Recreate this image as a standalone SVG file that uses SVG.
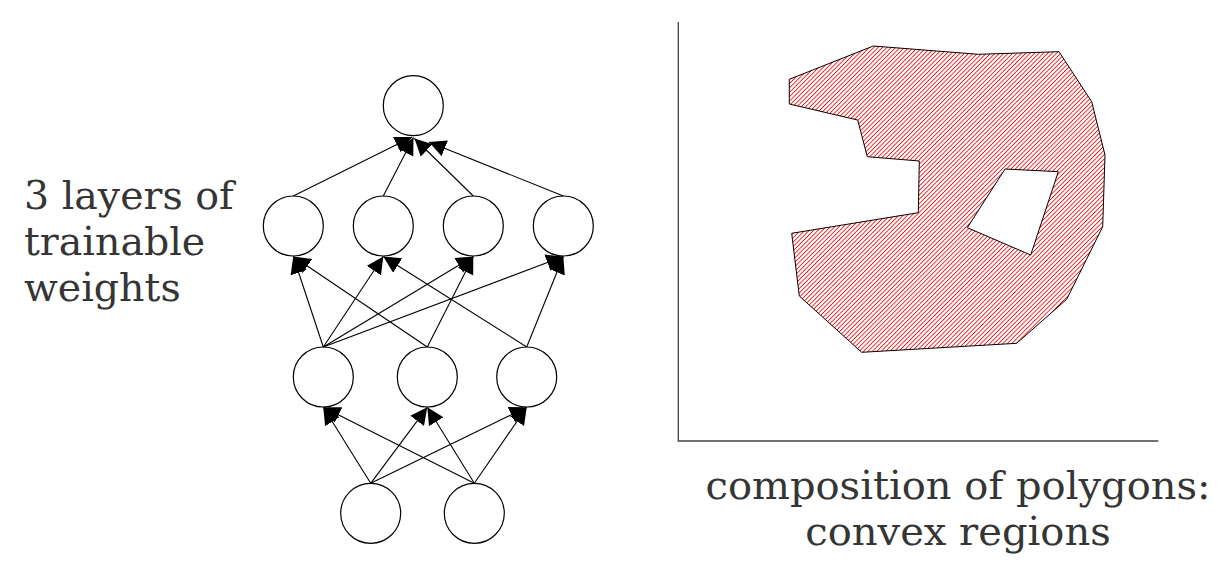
<svg xmlns="http://www.w3.org/2000/svg" width="1222" height="571" viewBox="0 0 1222 571">
<style>
.node{fill:#fff;stroke:#000;stroke-width:1.2}
.edge{stroke:#000;stroke-width:1.1;fill:none;marker-end:url(#ah)}
.lbl{font-family:"DejaVu Serif",serif;fill:#353535}
.axis{stroke:#444;stroke-width:1.3;fill:none}
</style>
<defs>
<marker id="ah" viewBox="0 -9 17 18" refX="17" refY="0" markerWidth="17" markerHeight="18" markerUnits="userSpaceOnUse" orient="auto">
<path d="M0,-8.5 L17,0 L0,8.5 z" fill="#000"/>
</marker>
<pattern id="hatch" patternUnits="userSpaceOnUse" width="3.1" height="10" patternTransform="rotate(45)">
<rect x="0" y="0" width="0.8" height="10" fill="#ff0000"/>
</pattern>
</defs>
<rect width="1222" height="571" fill="#fff"/>
<g id="nodes">
<g id="n_out"><circle class="node" cx="413.3" cy="105.7" r="30"/></g>
<g id="n_h2_1"><circle class="node" cx="293.3" cy="226" r="30"/></g>
<g id="n_h2_2"><circle class="node" cx="383.3" cy="226" r="30"/></g>
<g id="n_h2_3"><circle class="node" cx="473.3" cy="226" r="30"/></g>
<g id="n_h2_4"><circle class="node" cx="563.3" cy="226" r="30"/></g>
<g id="n_h1_1"><circle class="node" cx="323.3" cy="377" r="30"/></g>
<g id="n_h1_2"><circle class="node" cx="427.3" cy="377" r="30"/></g>
<g id="n_h1_3"><circle class="node" cx="526.7" cy="377" r="30"/></g>
<g id="n_in_1"><circle class="node" cx="370.7" cy="513.3" r="30"/></g>
<g id="n_in_2"><circle class="node" cx="474.3" cy="513.3" r="30"/></g>
</g>
<g id="connectors">
<line class="edge" x1="293.3" y1="196" x2="412" y2="137"/>
<line class="edge" x1="383.3" y1="196" x2="413.5" y2="137.5"/>
<line class="edge" x1="473.3" y1="196" x2="414.5" y2="138.5"/>
<line class="edge" x1="563.3" y1="196" x2="429" y2="142"/>
<line class="edge" x1="323.3" y1="347" x2="293.3" y2="256.5"/>
<line class="edge" x1="323.3" y1="347" x2="383.3" y2="256.5"/>
<line class="edge" x1="323.3" y1="347" x2="473.3" y2="256.5"/>
<line class="edge" x1="323.3" y1="347" x2="563.3" y2="256.5"/>
<line class="edge" x1="427.3" y1="347" x2="293.3" y2="256.5"/>
<line class="edge" x1="427.3" y1="347" x2="473.3" y2="256.5"/>
<line class="edge" x1="526.7" y1="347" x2="383.3" y2="256.5"/>
<line class="edge" x1="526.7" y1="347" x2="563.3" y2="256.5"/>
<line class="edge" x1="370.7" y1="483.3" x2="323.3" y2="407.3"/>
<line class="edge" x1="370.7" y1="483.3" x2="427.3" y2="407.3"/>
<line class="edge" x1="370.7" y1="483.3" x2="526.7" y2="407.3"/>
<line class="edge" x1="474.3" y1="483.3" x2="323.3" y2="407.3"/>
<line class="edge" x1="474.3" y1="483.3" x2="427.3" y2="407.3"/>
<line class="edge" x1="474.3" y1="483.3" x2="526.7" y2="407.3"/>
</g>
<g id="label_left">
<text class="lbl" font-size="39.5"><tspan x="24" y="209">3 layers of</tspan><tspan x="24" y="255">trainable</tspan><tspan x="24" y="301">weights</tspan></text>
</g>
<g id="plot">
<polyline class="axis" points="678.3,22 678.3,441 1158.3,441"/>
<path id="region" fill="url(#hatch)" fill-rule="evenodd" stroke="#000" stroke-width="1" d="M789.3,79.3 L873.3,46 L978.3,54.3 L1059,51.7 L1091.7,101.7 L1105,155 L1102.7,226.7 L1066.7,299.3 L1016.7,343.3 L861.7,352.3 L799.3,296 L791.7,233.3 L918.3,212.7 L919.3,161 L867.3,156.7 L857.7,120 L789.3,104 Z M1005,169 L1058.3,171.7 L1030.7,255 L967.3,227.7 Z"/>
</g>
<g id="label_bottom">
<text class="lbl" font-size="40" text-anchor="middle"><tspan x="958" y="499">composition of polygons:</tspan><tspan x="958" y="545">convex regions</tspan></text>
</g>
</svg>
